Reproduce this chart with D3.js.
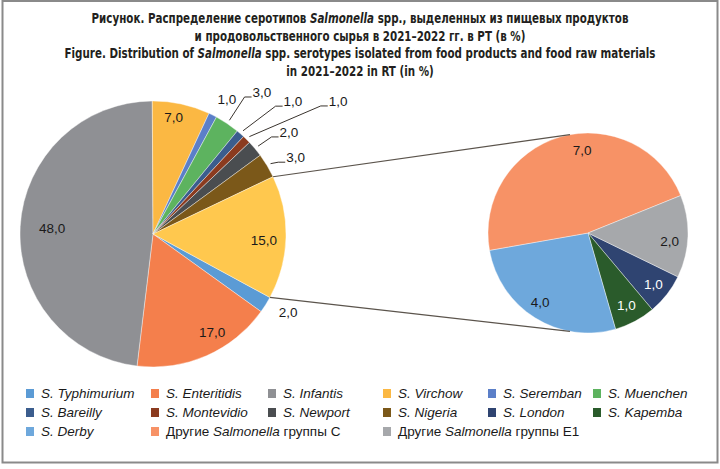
<!DOCTYPE html>
<html>
<head>
<meta charset="utf-8">
<script src="https://cdn.jsdelivr.net/npm/d3@7"></script>
<style>
  body { margin: 0; background: #fff; }
  svg { display: block; }
</style>
</head>
<body>
<svg id="chart" width="720" height="469"></svg>
<script>
// data (in %)
const mainNames = ['S. Typhimurium', 'S. Enteritidis', 'S. Infantis', 'S. Virchow', 'S. Seremban',
  'S. Muenchen', 'S. Bareilly', 'S. Montevidio', 'S. Newport', 'S. Nigeria', 'other']
const mainValues = [2, 17, 48, 7, 1, 3, 1, 1, 2, 3, 15]

const subNames = ['S. London', 'S. Kapemba', 'S. Derby', 'Другие Salmonella группы С', 'Другие Salmonella группы Е1']
const subValues = [1, 1, 4, 7, 2]

const legendNames = ['S. Typhimurium', 'S. Enteritidis', 'S. Infantis', 'S. Virchow', 'S. Seremban', 'S. Muenchen',
  'S. Bareilly', 'S. Montevidio', 'S. Newport', 'S. Nigeria', 'S. London', 'S. Kapemba',
  'S. Derby', 'Другие Salmonella группы С', 'Другие Salmonella группы Е1']
const legendColors = ['#5b9bd5', '#f47f4c', '#8f9094', '#fbb843', '#5b7fc8', '#5db35f',
  '#3b5d8e', '#8b3b1f', '#4a4d50', '#7b5819', '#2f4471', '#2a5b2b',
  '#6ea8dc', '#f79266', '#a6a8ab']
const otherColor = '#ffc84e'

const titleLines = [
  ['Рисунок. Распределение серотипов ', '*Salmonella', ' spp., выделенных из пищевых продуктов'],
  ['и продовольственного сырья в 2021–2022 гг. в РТ (в %)'],
  ['Figure. Distribution of ', '*Salmonella', ' spp. serotypes isolated from food products and food raw materials'],
  ['in 2021–2022 in RT (in %)']
]

// label placement: [angle deg from 12 o'clock, distance from centre in px]
const mainLabelAt = {
  'S. Typhimurium': [120, 156], 'S. Enteritidis': [149, 115], 'S. Infantis': [273.4, 101],
  'S. Virchow': [10, 119], 'S. Seremban': [28.7, 154], 'S. Muenchen': [37.5, 179],
  'S. Bareilly': [46.5, 193], 'S. Montevidio': [54.3, 228], 'S. Newport': [53.1, 170],
  'S. Nigeria': [61.7, 162], 'other': [93, 111]
}
const withLeader = ['S. Muenchen', 'S. Bareilly', 'S. Montevidio', 'S. Newport', 'S. Nigeria']
const subLabelAt = {
  'S. London': [128, 83], 'S. Kapemba': [152, 82], 'S. Derby': [214.8, 84],
  'Другие Salmonella группы С': [-4, 83], 'Другие Salmonella группы Е1': [95.6, 82]
}
const whiteLabels = ['S. London', 'S. Kapemba']

const svg = d3.select('#chart')
const fmt = v => d3.format('.1f')(v).replace('.', ',')
const rad = a => a * Math.PI / 180
const polar = (cx, cy, a, r) => [cx + r * Math.sin(rad(a)), cy - r * Math.cos(rad(a))]
const colorOf = d3.scaleOrdinal().domain(legendNames.concat(['other'])).range(legendColors.concat([otherColor]))
const textFont = '"Liberation Sans", Arial, sans-serif'

// frame
svg.append('rect').attr('x', 2.5).attr('y', 1).attr('width', 715).attr('height', 461.5)
  .attr('fill', '#fff').attr('stroke', '#8a8a8a').attr('stroke-width', 2)

// title (condensed bold face is not installed, so squeeze a regular one)
const title = svg.append('g')
  .attr('transform', 'translate(360,0) scale(0.85,1)')
  .attr('font-family', '"DejaVu Sans Condensed", "DejaVu Sans", sans-serif')
  .attr('font-weight', 'bold').attr('font-size', 13.5).attr('fill', '#231f20')
titleLines.forEach((parts, i) => {
  const t = title.append('text').attr('x', 0).attr('y', 23 + i * 17.6).attr('text-anchor', 'middle')
  parts.forEach(p => {
    const it = p.startsWith('*')
    t.append('tspan').text(it ? p.slice(1) : p).attr('font-style', it ? 'italic' : null)
  })
})

// main pie
const main = { cx: 153, cy: 234, r: 133, start: 118.5 }
const sub = { cx: 588, cy: 233, r: 100, start: 116 }

const mainArcs = d3.pie().sort(null).startAngle(rad(main.start)).endAngle(rad(main.start + 360))
  .value(d => d.v)(mainNames.map((n, i) => ({ n, v: mainValues[i] })))
const subArcs = d3.pie().sort(null).startAngle(rad(sub.start)).endAngle(rad(sub.start + 360))
  .value(d => d.v)(subNames.map((n, i) => ({ n, v: subValues[i] })))

const mainArc = d3.arc().innerRadius(0).outerRadius(main.r)
const subArc = d3.arc().innerRadius(0).outerRadius(sub.r)

svg.append('g').attr('transform', `translate(${main.cx},${main.cy})`)
  .selectAll('path').data(mainArcs).join('path')
  .attr('d', mainArc).attr('fill', d => colorOf(d.data.n))
  .attr('stroke', '#fff').attr('stroke-width', 0.4)

svg.append('g').attr('transform', `translate(${sub.cx},${sub.cy})`)
  .selectAll('path').data(subArcs).join('path')
  .attr('d', subArc).attr('fill', d => colorOf(d.data.n))
  .attr('stroke', '#fff').attr('stroke-width', 0.4)

// connector lines between the "other" slice and the second pie
const other = mainArcs.find(d => d.data.n === 'other')
const a0 = polar(main.cx, main.cy, other.startAngle * 180 / Math.PI, main.r)
const a1 = polar(main.cx, main.cy, other.endAngle * 180 / Math.PI, main.r)
const b0 = polar(sub.cx, sub.cy, -10.4, sub.r)
const b1 = polar(sub.cx, sub.cy, 190.4, sub.r)
svg.append('g').attr('stroke', '#5b544c').attr('stroke-width', 1.2)
  .selectAll('line').data([[a0, b0], [a1, b1]]).join('line')
  .attr('x1', d => d[0][0]).attr('y1', d => d[0][1])
  .attr('x2', d => d[1][0]).attr('y2', d => d[1][1])

// main labels
const mainLabels = svg.append('g').attr('font-family', textFont).attr('font-size', 13.5).attr('fill', '#1a1a1a')
mainArcs.forEach(d => {
  const [a, r] = mainLabelAt[d.data.n]
  const [x, y] = polar(main.cx, main.cy, a, r)
  const txt = mainLabels.append('text').attr('x', x).attr('y', y).attr('dy', '0.36em')
    .attr('text-anchor', 'middle').text(fmt(d.data.v))
  if (withLeader.includes(d.data.n)) {
    const w = txt.node().getComputedTextLength()
    const left = x - w / 2
    const mid = (d.startAngle + d.endAngle) / 2 * 180 / Math.PI
    const p0 = polar(main.cx, main.cy, mid, main.r + 4)
    mainLabels.append('path')
      .attr('d', d3.line()([p0, [left - 8, y + 5], [left - 1, y + 5]]))
      .attr('fill', 'none').attr('stroke', '#3a342e').attr('stroke-width', 1)
  }
})

// second pie labels
const subLabels = svg.append('g').attr('font-family', textFont).attr('font-size', 13.5)
subArcs.forEach(d => {
  const [a, r] = subLabelAt[d.data.n]
  const [x, y] = polar(sub.cx, sub.cy, a, r)
  subLabels.append('text').attr('x', x).attr('y', y).attr('dy', '0.36em')
    .attr('text-anchor', 'middle')
    .attr('fill', whiteLabels.includes(d.data.n) ? '#fff' : '#1a1a1a')
    .text(fmt(d.data.v))
})

// legend
const colX = [26, 151, 268, 383, 488, 593]
const rowY = [393.5, 412.5, 431.5]
const legend = svg.append('g').attr('font-family', textFont).attr('font-size', 13.5).attr('fill', '#1a1a1a')
const place = i => {
  if (i < 12) return [colX[i % 6], rowY[Math.floor(i / 6)]]
  return [[colX[0], colX[1], colX[3]][i - 12], rowY[2]]
}
legendNames.forEach((n, i) => {
  const [x, y] = place(i)
  legend.append('rect').attr('x', x).attr('y', y - 4.5).attr('width', 8).attr('height', 9)
    .attr('fill', legendColors[i])
  const t = legend.append('text').attr('x', x + 15).attr('y', y).attr('dy', '0.36em')
  if (n.startsWith('Другие')) {
    const rest = n.replace('Другие Salmonella ', '')
    t.append('tspan').text('Другие ')
    t.append('tspan').attr('font-style', 'italic').text('Salmonella')
    t.append('tspan').text(' ' + rest)
  } else {
    t.attr('font-style', 'italic').text(n)
  }
})
</script>
</body>
</html>
